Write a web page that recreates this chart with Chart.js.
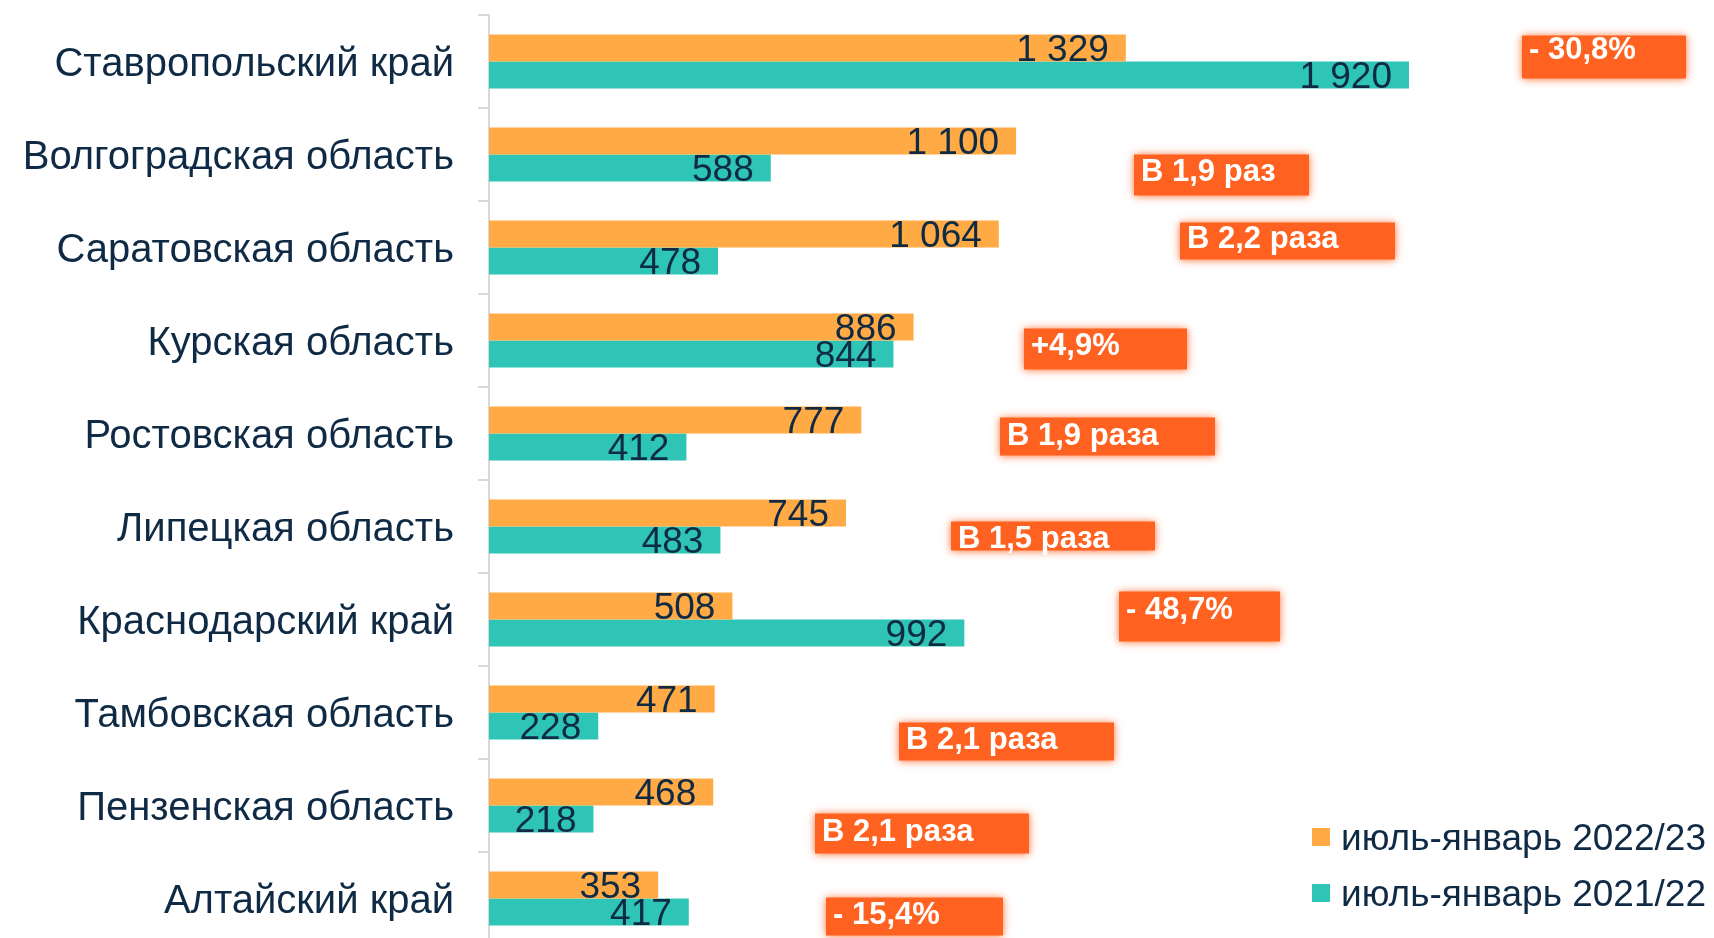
<!DOCTYPE html>
<html>
<head>
<meta charset="utf-8">
<script src="https://cdn.jsdelivr.net/npm/chart.js@4.4.1/dist/chart.umd.min.js"></script>
<style>
  html, body { margin: 0; padding: 0; background: #ffffff; overflow: hidden; }
  #wrap { position: relative; width: 1714px; height: 950px; }
</style>
</head>
<body>
<div id="wrap"><canvas id="c"></canvas></div>
<script>
// ---- data ----
const categories = [
  'Ставропольский край', 'Волгоградская область', 'Саратовская область', 'Курская область',
  'Ростовская область', 'Липецкая область', 'Краснодарский край', 'Тамбовская область',
  'Пензенская область', 'Алтайский край'
];
const seriesLabels = ['июль-январь 2022/23', 'июль-январь 2021/22'];
const values2223 = [1329, 1100, 1064, 886, 777, 745, 508, 471, 468, 353];
const values2122 = [1920, 588, 478, 844, 412, 483, 992, 228, 218, 417];
const changeLabels = ['- 30,8%', 'В 1,9 раз', 'В 2,2 раза', '+4,9%', 'В 1,9 раза', 'В 1,5 раза', '- 48,7%', 'В 2,1 раза', 'В 2,1 раза', '- 15,4%'];

// ---- layout / style (not data) ----
const FONT = '"Liberation Sans", Arial, sans-serif';
const NAVY = '#0F2A44';
const ORANGE = '#FFAA44';
const TEAL = '#2EC4B6';
const BADGE = '#FF6220';
// badge placement: [left px, top offset from category centre, width, height, text offset from category centre]
const badgeLayout = [
  [1519, -29, 170, 49, -12],
  [1131, -3, 181, 47, 17],
  [1177, -28, 221, 43, -9],
  [1021, -15, 169, 47, 5],
  [997, -19, 221, 44, 2],
  [948, -8, 210, 35, 12],
  [1116, -31, 167, 56, -10],
  [896, 7, 221, 44, 27],
  [812, 5, 220, 46, 26],
  [823, -4, 183, 44, 16]
];

function fmt(v) { return String(v).replace(/\B(?=(\d{3})+(?!\d))/g, ' '); }

const valueLabels = {
  id: 'valueLabels',
  afterDatasetsDraw(chart) {
    const ctx = chart.ctx;
    ctx.save();
    ctx.font = '37px ' + FONT;
    ctx.fillStyle = NAVY;
    ctx.textAlign = 'right';
    ctx.textBaseline = 'middle';
    chart.data.datasets.forEach((ds, di) => {
      const meta = chart.getDatasetMeta(di);
      meta.data.forEach((el, i) => {
        ctx.fillText(fmt(ds.data[i]), el.x - 17, el.y + 3);
      });
    });
    ctx.restore();
  }
};

const badges = {
  id: 'badges',
  afterDraw(chart) {
    const ctx = chart.ctx;
    const ys = chart.scales.y;
    changeLabels.forEach((txt, i) => {
      const cy = ys.getPixelForValue(i);
      const [left, dTop, w, h, dText] = badgeLayout[i];
      ctx.save();
      ctx.fillStyle = BADGE;
      ctx.shadowColor = 'rgba(255,98,32,0.9)';
      ctx.shadowBlur = 8;
      ctx.fillRect(left + 3, cy + dTop + 3, w - 6, h - 6);
      ctx.shadowBlur = 0;
      ctx.shadowColor = 'transparent';
      ctx.fillStyle = '#ffffff';
      ctx.font = 'bold 31px ' + FONT;
      ctx.textAlign = 'left';
      ctx.textBaseline = 'middle';
      ctx.fillText(txt, left + 10, cy + dText + 1);
      ctx.restore();
    });
  }
};

const customLegend = {
  id: 'customLegend',
  afterDraw(chart) {
    const ctx = chart.ctx;
    ctx.save();
    ctx.font = '37px ' + FONT;
    ctx.textAlign = 'left';
    ctx.textBaseline = 'middle';
    const rows = [837, 893];
    chart.data.datasets.forEach((ds, di) => {
      ctx.fillStyle = ds.backgroundColor;
      ctx.fillRect(1312, rows[di] - 9, 18, 18);
      ctx.fillStyle = NAVY;
      ctx.fillText(ds.label, 1341, rows[di] + 3);
    });
    ctx.restore();
  }
};

new Chart(document.getElementById('c'), {
  type: 'bar',
  data: {
    labels: categories,
    datasets: [
      { label: seriesLabels[0], data: values2223, backgroundColor: ORANGE, categoryPercentage: 0.58, barPercentage: 1.0 },
      { label: seriesLabels[1], data: values2122, backgroundColor: TEAL, categoryPercentage: 0.58, barPercentage: 1.0 }
    ]
  },
  options: {
    indexAxis: 'y',
    responsive: true,
    maintainAspectRatio: false,
    animation: false,
    layout: { padding: { top: 15, bottom: 5, left: 0, right: 75 } },
    plugins: { legend: { display: false }, tooltip: { enabled: false } },
    scales: {
      x: { display: false, min: 0, max: 2400 },
      y: {
        afterFit(s) { s.width = 489; s.paddingTop = 0; s.paddingBottom = 0; },
        grid: { drawOnChartArea: false, offset: true, tickLength: 11, color: '#D9D9D9', lineWidth: 2 },
        border: { color: '#D9D9D9', width: 2 },
        ticks: { padding: 24, labelOffset: 3, color: NAVY, font: { family: FONT, size: 40 } }
      }
    }
  },
  plugins: [valueLabels, badges, customLegend]
});
</script>
</body>
</html>
